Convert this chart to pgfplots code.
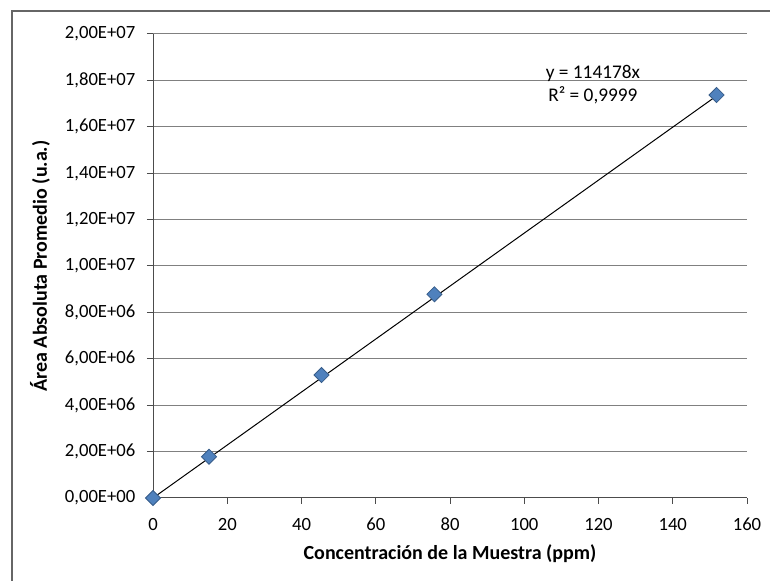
\documentclass[border=0pt]{standalone}
\usepackage{fontspec}
\setmainfont{Carlito}
\usepackage{pgfplots}
\pgfplotsset{compat=1.18}
\definecolor{mkfill}{HTML}{4F81BD}
\definecolor{mkedge}{HTML}{385D8A}
\begin{document}
\begin{tikzpicture}
\useasboundingbox (0pt,0pt) rectangle (577.5pt,435.75pt);
\draw[draw=black!60, line width=1.5pt] (8.625pt,-20pt) -- (8.625pt,427.125pt) -- (600pt,427.125pt);
\begin{axis}[
  at={(114.75pt,62.25pt)}, anchor=south west,
  scale only axis, width=445.5pt, height=348pt,
  xmin=0, xmax=160, ymin=0, ymax=20000000,
  clip=false,
  axis x line*=bottom, axis y line*=left,
  axis line style={black!70, line width=0.75pt},
  xtick={0,20,...,160},
  ytick={0,2000000,4000000,6000000,8000000,10000000,12000000,14000000,16000000,18000000,20000000},
  yticklabels={{0,00E+00},{2,00E+06},{4,00E+06},{6,00E+06},{8,00E+06},{1,00E+07},{1,20E+07},{1,40E+07},{1,60E+07},{1,80E+07},{2,00E+07}},
  scaled y ticks=false,
  /pgf/number format/assume math mode=true,
  tick align=outside, major tick length=4.5pt,
  tick style={black!70, line width=0.75pt},
  ymajorgrids, grid style={black!50, line width=0.75pt},
  ticklabel style={font=\fontsize{14}{16}\selectfont},
  yticklabel style={xshift=-5.25pt},
  xticklabel style={yshift=-7pt},
  xlabel={Concentración de la Muestra (ppm)},
  ylabel={Área Absoluta Promedio (u.a.)},
  label style={font=\bfseries\fontsize{15}{17}\selectfont},
  xlabel style={at={(axis description cs:0.5,-0.120)}, anchor=center},
  ylabel style={at={(axis description cs:-0.1902,0.5)}, anchor=center},
]
\addplot[only marks, mark=square*, mark size=4pt,
  mark options={rotate=45, fill=mkfill, draw=mkedge, line width=0.6pt}]
  coordinates {(0,0) (15.1,1780000) (45.4,5300000) (75.8,8780000) (151.8,17370000)};
\addplot[black, line width=0.75pt, no marks] coordinates {(0,0) (151.8,17332220)};
\node[font=\fontsize{14.5}{16}\selectfont] at (axis cs:118.5,18300000) {y = 114178x};
\node[font=\fontsize{14.5}{16}\selectfont] at (axis cs:118.5,17360000) {R² = 0,9999};
\end{axis}
\end{tikzpicture}
\end{document}
